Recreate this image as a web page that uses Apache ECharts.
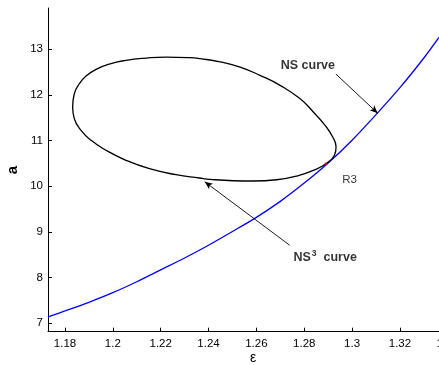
<!DOCTYPE html>
<html>
<head>
<meta charset="utf-8">
<script src="https://cdn.jsdelivr.net/npm/echarts@6/dist/echarts.min.js"></script>
<style>
  html, body { margin: 0; padding: 0; background: #fff; }
  #app { width: 439px; height: 365px; }
</style>
</head>
<body>
<div id="app"></div>
<script>
// NS curve (blue) : [epsilon, a]
const nsCurve = [
  [1.1729, 7.14], [1.18, 7.27], [1.19, 7.46], [1.20, 7.67], [1.21, 7.91],
  [1.22, 8.17], [1.23, 8.43], [1.24, 8.71], [1.25, 9.01], [1.26, 9.32],
  [1.27, 9.67], [1.28, 10.07], [1.29, 10.51], [1.30, 11.01], [1.31, 11.57],
  [1.32, 12.16], [1.33, 12.81], [1.3363, 13.26]
];

// NS^3 curve (black closed loop)
const ns3Curve = [
  [1.1832, 11.736], [1.1839, 12.027], [1.1860, 12.246], [1.1888, 12.415],
  [1.1930, 12.562], [1.1985, 12.678], [1.2055, 12.759], [1.2139, 12.809],
  [1.2222, 12.831], [1.2320, 12.818], [1.2365, 12.795], [1.2448, 12.727],
  [1.2532, 12.612], [1.2615, 12.430], [1.2699, 12.211], [1.2783, 11.918],
  [1.2838, 11.627], [1.2887, 11.335], [1.2919, 11.079], [1.2933, 10.860],
  [1.2926, 10.679], [1.2891, 10.495], [1.2838, 10.350], [1.2769, 10.225],
  [1.2685, 10.144], [1.2587, 10.116], [1.2504, 10.122], [1.2406, 10.153],
  [1.2362, 10.182], [1.2264, 10.254], [1.2153, 10.386], [1.2055, 10.569],
  [1.1972, 10.788], [1.1909, 11.007], [1.1867, 11.226], [1.1839, 11.480],
  [1.1832, 11.736]
];

// point R3
const r3Point = [1.2891, 10.495];

const xTicks = [1.18, 1.20, 1.22, 1.24, 1.26, 1.28, 1.30, 1.32, 1.34];
const yTicks = [7, 8, 9, 10, 11, 12, 13];

// arrows: [from, to]
const nsArrow = [[1.2932, 12.46], [1.3107, 11.60]];
const ns3Arrow = [[1.2739, 8.71], [1.2384, 10.10]];

const font = '"Liberation Sans", Arial, Helvetica, sans-serif';

const chart = echarts.init(document.getElementById('app'), null, {renderer: 'canvas'});

const arrowLine = (pts) => ({
  silent: true,
  symbol: ['none', 'arrow'],
  symbolSize: [5, 8],
  label: {show: false},
  lineStyle: {color: '#000', width: 0.9, type: 'solid'},
  data: [[{coord: pts[0]}, {coord: pts[1]}]]
});

const option = {
  animation: false,
  backgroundColor: '#fff',
  grid: {left: 48, top: 8, bottom: 33.3, right: -8.8, containLabel: false, outerBoundsMode: 'none'},
  xAxis: {
    type: 'value',
    min: 1.1729,
    max: 1.34,
    axisLine: {show: true, lineStyle: {color: '#000', width: 1}},
    axisTick: {show: true, inside: true, length: 4, customValues: xTicks, lineStyle: {color: '#000'}},
    axisLabel: {customValues: xTicks, color: '#000', fontSize: 11.5, fontFamily: font, margin: 6, hideOverlap: false},
    splitLine: {show: false}
  },
  yAxis: {
    type: 'value',
    min: 6.816,
    max: 13.905,
    axisLine: {show: true, lineStyle: {color: '#000', width: 1}},
    axisTick: {show: true, inside: true, length: 4, customValues: yTicks, lineStyle: {color: '#000'}},
    axisLabel: {customValues: yTicks, color: '#000', fontSize: 11.5, fontFamily: font, margin: 5},
    splitLine: {show: false}
  },
  graphic: [
    {
      type: 'text', x: 13, y: 170, rotation: Math.PI / 2,
      style: {text: 'a', font: 'bold 15px ' + font, fill: '#000', align: 'center', verticalAlign: 'middle'}
    },
    {
      type: 'text', x: 253, y: 358,
      style: {text: 'ε', font: '14px ' + font, fill: '#000', align: 'center', verticalAlign: 'middle'}
    }
  ],
  series: [
    {
      type: 'line',
      data: nsCurve,
      smooth: 0.3,
      showSymbol: false,
      lineStyle: {color: '#0000ff', width: 1.3},
      markLine: arrowLine(nsArrow),
      z: 2
    },
    {
      type: 'line',
      data: ns3Curve,
      smooth: 0.5,
      showSymbol: false,
      lineStyle: {color: '#000', width: 1.3},
      markLine: arrowLine(ns3Arrow),
      z: 3
    },
    {
      type: 'scatter',
      data: [r3Point],
      symbolSize: 3,
      itemStyle: {color: '#ff0000'},
      z: 4
    },
    {
      type: 'scatter',
      symbolSize: 0,
      silent: true,
      data: [
        {value: [1.2815, 12.634], label: {formatter: 'NS curve', fontWeight: 'bold', fontSize: 12.5, align: 'center'}},
        {value: [1.2959, 10.138], label: {formatter: 'R3', align: 'left'}},
        {value: [1.2755, 8.44], label: {formatter: '{b|NS}{s|3}{b|  curve}', align: 'left'}}
      ],
      label: {
        show: true,
        position: 'inside',
        color: '#000',
        fontSize: 11.5,
        fontFamily: font,
        verticalAlign: 'middle',
        rich: {
          b: {fontWeight: 'bold', fontSize: 12.5, fontFamily: font, color: '#000'},
          s: {fontWeight: 'bold', fontSize: 8.5, fontFamily: font, color: '#000', verticalAlign: 'top', padding: [0, 0, 7, 1]}
        }
      }
    }
  ]
};

chart.setOption(option);
</script>
</body>
</html>
